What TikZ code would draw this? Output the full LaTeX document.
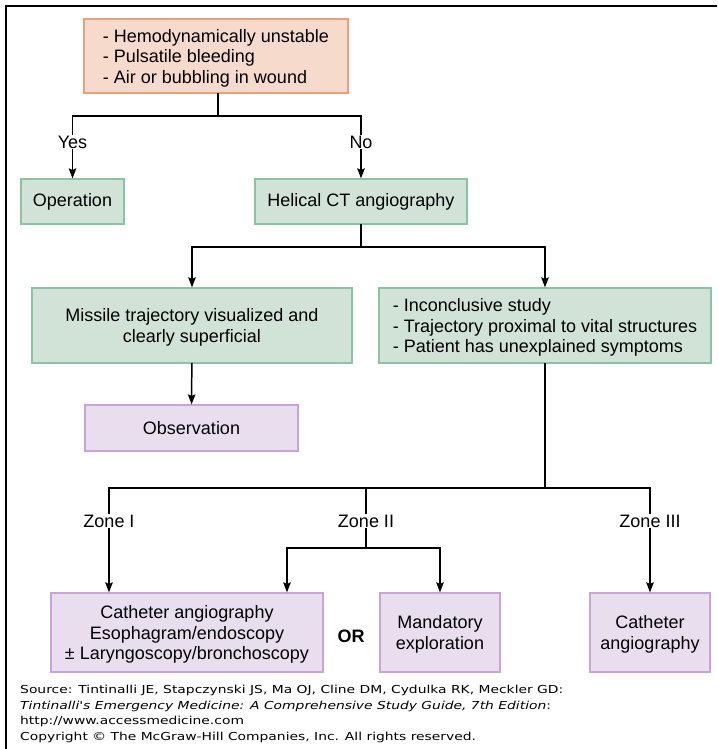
\documentclass[tikz,border=0pt]{standalone}
\usepackage{fontspec}
\setmainfont{Liberation Sans}
\newfontfamily\srcfont{DejaVu Sans}[FakeStretch=1.26]
\usetikzlibrary{arrows.meta}

\definecolor{greenfill}{RGB}{209,227,215}
\definecolor{greenline}{RGB}{140,195,160}
\definecolor{purplefill}{RGB}{233,222,238}
\definecolor{purpleline}{RGB}{200,165,214}
\definecolor{orangefill}{RGB}{246,218,203}
\definecolor{orangeline}{RGB}{232,160,125}

\tikzset{
  greenbox/.style={draw=greenline, fill=greenfill, line width=1.2pt, inner sep=0pt, align=center,
    font=\fontsize{18}{20.5}\selectfont},
  purplebox/.style={greenbox, draw=purpleline, fill=purplefill},
  orangebox/.style={greenbox, draw=orangeline, fill=orangefill},
  stack/.style={text depth=-1pt},
  lbl/.style={font=\fontsize{18}{20}\selectfont, inner sep=1pt},
  link/.style={line width=1.5pt, line cap=rect},
}

\begin{document}
\begin{tikzpicture}[x=1pt, y=-1pt, >={Stealth[length=10pt,width=7.5pt,inset=1.5pt]}]
  \useasboundingbox (0,0) rectangle (717,749);
  % frame
  \draw[line width=2.6pt] (6,749) -- (6,6) -- (717,6);

  % boxes
  \node[orangebox, stack, minimum width=264pt, minimum height=74pt, align=left] (top) at (216,56)
    {- Hemodynamically unstable\\- Pulsatile bleeding\\- Air or bubbling in wound};
  \node[greenbox, minimum width=103pt, minimum height=45pt] (op) at (72.5,201.5) {Operation};
  \node[greenbox, minimum width=212pt, minimum height=45pt] (ct) at (361,201.5) {Helical CT angiography};
  \node[greenbox, stack, minimum width=320pt, minimum height=75pt] (sup) at (192,325.5)
    {Missile trajectory visualized and\\clearly superficial};
  \node[greenbox, stack, minimum width=332pt, minimum height=75pt, align=left] (inc) at (545,325.5)
    {- Inconclusive study\\- Trajectory proximal to vital structures\\- Patient has unexplained symptoms};
  \node[purplebox, minimum width=213pt, minimum height=46pt] (obs) at (191.5,428) {Observation};
  \node[purplebox, stack, minimum width=272pt, minimum height=79pt] (cath) at (187,632.5)
    {Catheter angiography\\Esophagram/endoscopy\\± Laryngoscopy/bronchoscopy};
  \node[purplebox, stack, minimum width=120pt, minimum height=79pt] (mand) at (440,632.5)
    {Mandatory\\exploration};
  \node[purplebox, stack, minimum width=120pt, minimum height=79pt] (cath3) at (650,632.5)
    {Catheter\\angiography};
  \node[lbl, font=\fontsize{18}{20}\selectfont\bfseries] (or) at (351,636) {OR};

  % branch labels
  \node[lbl] (yes) at (72.5,142) {Yes};
  \node[lbl] (no) at (361,142) {No};
  \node[lbl] (zi) at (109,521) {Zone I};
  \node[lbl] (zii) at (366,521) {Zone II};
  \node[lbl] (ziii) at (650,521) {Zone III};

  \coordinate (j1) at (218,116);
  \coordinate (j2) at (361,247);
  \coordinate (j3) at (545,488);
  \coordinate (j4) at (366,548);

  % connectors
  \draw[link] (top.south -| j1) -- (j1);
  \draw[link] (yes.north) |- (j1) -| (no.north);
  \draw[link,->] (yes) -- (op);
  \draw[link,->] (no) -- (ct);
  \draw[link] (ct) -- (j2);
  \draw[link,->] (j2) -| (sup);
  \draw[link,->] (j2) -| (inc);
  \draw[link,->] (sup) -- (obs);
  \draw[link] (inc) -- (j3);
  \draw[link] (zi.north) |- (j3) -| (ziii.north);
  \draw[link] (zii.north) -- (zii.north |- j3);
  \draw[link,->] (zi) -- (zi |- cath.north);
  \draw[link] (zii) -- (j4);
  \draw[link,->] (j4) -| ([xshift=100pt]cath.north);
  \draw[link,->] (j4) -| (mand);
  \draw[link,->] (ziii) -- (cath3);

  % source
  \node[anchor=north west, align=left, inner sep=0pt, font=\srcfont\fontsize{11}{15.6}\selectfont] (src) at (20,685)
    {Source: Tintinalli JE, Stapczynski JS, Ma OJ, Cline DM, Cydulka RK, Meckler GD:\\
     \textit{Tintinalli's Emergency Medicine: A Comprehensive Study Guide, 7th Edition}:\\
     http://www.accessmedicine.com\\
     Copyright \copyright{} The McGraw-Hill Companies, Inc. All rights reserved.};
\end{tikzpicture}
\end{document}
